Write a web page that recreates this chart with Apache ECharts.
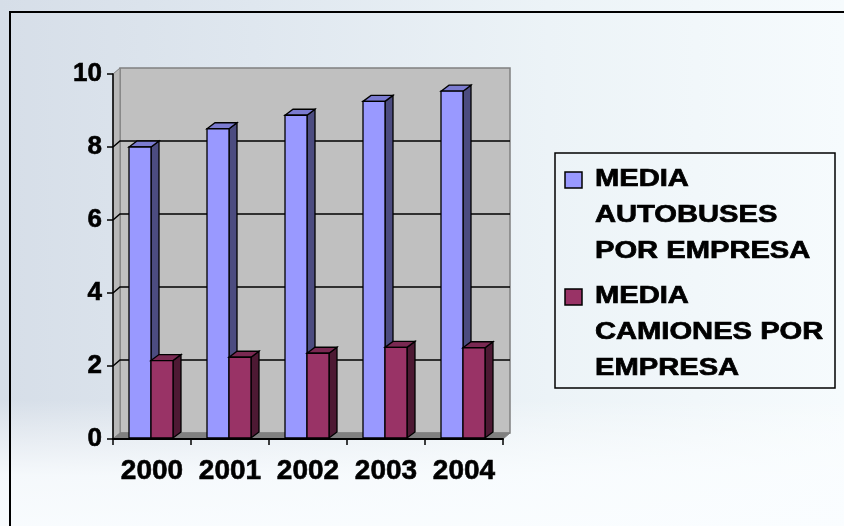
<!DOCTYPE html>
<html>
<head>
<meta charset="utf-8">
<script src="https://cdn.jsdelivr.net/npm/echarts@6/dist/echarts.min.js"></script>
<style>html,body{margin:0;padding:0;}#c{width:844px;height:526px;}</style>
</head>
<body>
<div id="c"></div>
<script>
const categories = ['2000', '2001', '2002', '2003', '2004'];
const autobuses = [8.0, 8.5, 8.87, 9.25, 9.53];
const camiones = [2.15, 2.24, 2.35, 2.51, 2.5];
const yTicks = [0, 2, 4, 6, 8, 10];
const seriesNames = ['MEDIA AUTOBUSES POR EMPRESA', 'MEDIA CAMIONES POR EMPRESA'];
const legendLines = [['MEDIA', 'AUTOBUSES', 'POR EMPRESA'], ['MEDIA', 'CAMIONES POR', 'EMPRESA']];

const WALL_DX = 7, WALL_DY = -6;
const BAR_DX = 8, BAR_DY = -6;
const FONT = 'Liberation Sans';
const palette = [
  { front: '#9999ff', side: '#4c4c80', top: '#7b7bd0' },
  { front: '#993366', side: '#4d1933', top: '#7a2952' }
];

const chart = echarts.init(document.getElementById('c'), null, { renderer: 'canvas' });

function wallsRender(params, api) {
  const cs = params.coordSys;
  const x = cs.x, y = cs.y, w = cs.width, h = cs.height;
  const children = [
    { type: 'rect', shape: { x: x + WALL_DX, y: y + WALL_DY, width: w, height: h },
      style: { fill: '#c0c0c0', stroke: '#808080', lineWidth: 1.5 } },
    { type: 'polygon', shape: { points: [[x, y], [x + WALL_DX, y + WALL_DY], [x + WALL_DX, y + h + WALL_DY], [x, y + h]] },
      style: { fill: '#b8b8b8', stroke: '#808080', lineWidth: 1 } },
    { type: 'polygon', shape: { points: [[x, y + h], [x + WALL_DX, y + h + WALL_DY], [x + w + WALL_DX, y + h + WALL_DY], [x + w, y + h]] },
      style: { fill: '#808080', stroke: '#808080', lineWidth: 1 } }
  ];
  const maxT = yTicks[yTicks.length - 1];
  yTicks.forEach(function (t) {
    if (t === 0 || t === maxT) return;
    const yv = api.coord([0, t])[1];
    children.push({ type: 'polyline',
      shape: { points: [[x, yv], [x + WALL_DX, yv + WALL_DY], [x + w + WALL_DX, yv + WALL_DY]] },
      style: { stroke: '#000', lineWidth: 1.5, fill: null } });
  });
  return { type: 'group', children: children };
}

function barRender(si) {
  return function (params, api) {
    const idx = api.value(0), v = api.value(1);
    const top = api.coord([idx, v]);
    const base = api.coord([idx, 0]);
    const band = api.size([1, 0])[0];
    const w = band * 0.282;
    const x0 = si === 0 ? top[0] - w - 1 : top[0] - 1;
    const y0 = top[1], y1 = base[1] - 1;
    const c = palette[si];
    return { type: 'group', children: [
      { type: 'polygon', shape: { points: [[x0 + w, y0], [x0 + w + BAR_DX, y0 + BAR_DY], [x0 + w + BAR_DX, y1 + BAR_DY], [x0 + w, y1]] },
        style: { fill: c.side, stroke: '#000', lineWidth: 1.3 } },
      { type: 'polygon', shape: { points: [[x0, y0], [x0 + BAR_DX, y0 + BAR_DY], [x0 + w + BAR_DX, y0 + BAR_DY], [x0 + w, y0]] },
        style: { fill: c.top, stroke: '#000', lineWidth: 1.3 } },
      { type: 'rect', shape: { x: x0, y: y0, width: w, height: y1 - y0 },
        style: { fill: c.front, stroke: '#000', lineWidth: 1.3 } }
    ] };
  };
}

// legend drawn as graphic text
const legendGraphic = [
  { type: 'rect', shape: { x: 555, y: 153, width: 280, height: 235 },
    style: { fill: 'rgba(0,0,0,0)', stroke: '#000', lineWidth: 1.5 }, z: 10 }
];
legendLines.forEach(function (lines, i) {
  const yStart = 180 + i * 117;
  legendGraphic.push({ type: 'rect', shape: { x: 565, y: yStart - 8, width: 17, height: 16 },
    style: { fill: palette[i].front, stroke: '#000', lineWidth: 1.5 }, z: 10 });
  lines.forEach(function (ln, j) {
    legendGraphic.push({ type: 'text', x: 595, y: yStart + j * 36, scaleX: 1.24, z: 10,
      style: { text: ln, fill: '#000', fontSize: 23.5, fontWeight: 'bold', fontFamily: FONT,
        stroke: '#000', lineWidth: 0.7, align: 'left', verticalAlign: 'middle' } });
  });
});

const option = {
  animation: false,
  backgroundColor: {
    type: 'linear', x: 0, y: 0, x2: 1, y2: 0,
    colorStops: [
      { offset: 0, color: '#d6dee8' },
      { offset: 0.3, color: '#dfe7ef' },
      { offset: 0.65, color: '#ecf3f7' },
      { offset: 1, color: '#f6fbfd' }
    ]
  },
  graphic: [
    { type: 'rect', shape: { x: 0, y: 400, width: 844, height: 126 }, z: -1, silent: true,
      style: { fill: { type: 'linear', x: 0, y: 0, x2: 0, y2: 1,
        colorStops: [{ offset: 0, color: 'rgba(255,255,255,0)' }, { offset: 0.6, color: 'rgba(250,253,255,0.85)' }, { offset: 1, color: 'rgba(250,253,255,0.95)' }] } } },
    { type: 'rect', shape: { x: 10, y: 12, width: 900, height: 600 }, z: 10, silent: true,
      style: { fill: 'rgba(0,0,0,0)', stroke: '#000', lineWidth: 2 } }
  ].concat(legendGraphic),
  grid: { left: 113, top: 74, width: 390, height: 365, containLabel: false },
  xAxis: {
    type: 'category', data: categories, boundaryGap: true, z: 10,
    axisLine: { show: true, lineStyle: { color: '#000', width: 2 } },
    axisTick: { show: true, length: 6, alignWithLabel: false, lineStyle: { color: '#000', width: 1.5 } },
    axisLabel: { color: '#000', fontSize: 28, fontWeight: 'bold', fontFamily: FONT, margin: 18, interval: 0,
      textBorderColor: '#000', textBorderWidth: 0.6 },
    splitLine: { show: false }
  },
  yAxis: {
    type: 'value', min: 0, max: 10, interval: 2, z: 10,
    axisLine: { show: true, lineStyle: { color: '#000', width: 1.5 } },
    axisTick: { show: true, length: 6, lineStyle: { color: '#000', width: 1.5 } },
    axisLabel: { color: '#000', fontSize: 26, fontWeight: 'bold', fontFamily: FONT, margin: 11,
      textBorderColor: '#000', textBorderWidth: 0.6 },
    splitLine: { show: false }
  },
  series: [
    { type: 'custom', name: 'walls', renderItem: wallsRender, data: [[0, 0]], clip: false, silent: true, z: 1,
      encode: { x: 0, y: 1 } },
    { type: 'custom', name: seriesNames[0], renderItem: barRender(0), clip: false, z: 2,
      encode: { x: 0, y: 1 }, data: categories.map(function (c, i) { return [i, autobuses[i]]; }) },
    { type: 'custom', name: seriesNames[1], renderItem: barRender(1), clip: false, z: 3,
      encode: { x: 0, y: 1 }, data: categories.map(function (c, i) { return [i, camiones[i]]; }) }
  ]
};
chart.setOption(option);
</script>
</body>
</html>
